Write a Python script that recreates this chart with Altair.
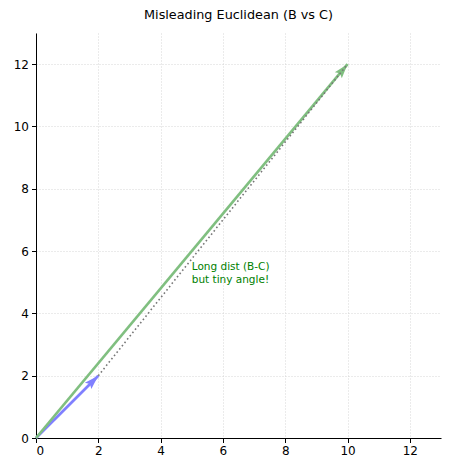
import altair as alt
import pandas as pd
import math

# Data
vec_names = ["B", "C"]
vec_x = [2, 10]
vec_y = [2, 12]
vec_colors = ["#8080ff", "#80bf80"]
tick_vals = [0, 2, 4, 6, 8, 10, 12]
note_lines = ["Long dist (B-C)", "but tiny angle!"]
note_x = [5]
note_y = [5]

# Build tables
line_rows = []
for n, x, y in zip(vec_names, vec_x, vec_y):
    line_rows.append({"vec": n, "x": 0, "y": 0, "o": 0})
    line_rows.append({"vec": n, "x": x, "y": y, "o": 1})
lines_df = pd.DataFrame(line_rows)

head_df = pd.DataFrame({
    "vec": vec_names,
    "x": vec_x,
    "y": vec_y,
    "angle": [math.degrees(math.atan2(x, y)) for x, y in zip(vec_x, vec_y)],
})

diff_df = pd.DataFrame({"x": vec_x, "y": vec_y, "o": [0, 1]})
note_df = pd.DataFrame({"x": note_x, "y": note_y, "t": [note_lines]})

xs = alt.Scale(domain=[0, 13], nice=False, zero=False)
ys = alt.Scale(domain=[0, 13], nice=False, zero=False)
axis_common = dict(
    values=tick_vals, grid=True, gridColor="#cccccc", gridDash=[1, 2], gridWidth=0.8,
    domainColor="black", domainWidth=1, tickColor="black", tickSize=4.5,
    labelColor="black", labelFontSize=12, labelFont="DejaVu Sans", title=None,
    labelPadding=3,
)
X = alt.X("x:Q", scale=xs, axis=alt.Axis(**axis_common))
Y = alt.Y("y:Q", scale=ys, axis=alt.Axis(**axis_common))
cscale = alt.Scale(domain=vec_names, range=vec_colors)

shafts = alt.Chart(lines_df).mark_line(strokeWidth=2.7, strokeCap="butt").encode(
    x=X, y=Y, detail="vec:N", order="o:Q",
    color=alt.Color("vec:N", scale=cscale, legend=None),
)
heads = alt.Chart(head_df).mark_point(
    shape="M0,0 L-0.6,1.9 L0,1.55 L0.6,1.9 Z", filled=True, opacity=1, size=230,
).encode(
    x=X, y=Y, angle=alt.Angle("angle:Q", scale=None),
    color=alt.Color("vec:N", scale=cscale, legend=None),
)
diff = alt.Chart(diff_df).mark_line(
    strokeWidth=1.6, strokeDash=[1.6, 2.6], color="#777777"
).encode(x=X, y=Y, order="o:Q")
note = alt.Chart(note_df).mark_text(
    align="left", baseline="alphabetic", color="green", fontSize=10.5, font="DejaVu Sans",
    lineHeight=12.5, dy=-12,
).encode(x=X, y=Y, text="t")

chart = alt.layer(shafts, heads, diff, note).properties(
    width=405, height=405,
    title=alt.TitleParams("Misleading Euclidean (B vs C)", fontSize=12.8, fontWeight="normal",
                          font="DejaVu Sans", color="black", offset=11),
    autosize=alt.AutoSizeParams(type="none"),
    padding={"left": 28, "top": 25, "right": 2, "bottom": 24},
).configure_view(stroke=None).configure_axis(domain=True)

chart.save("out.html", embed_options={"renderer": "svg", "actions": False})
